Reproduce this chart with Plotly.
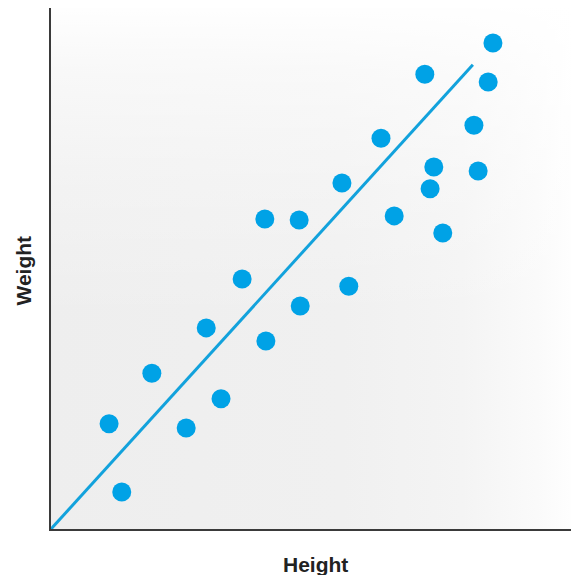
import base64
import plotly.graph_objects as go

# Data (arbitrary 0-100 units)
height = [11.0, 13.4, 19.1, 25.6, 29.4, 32.2, 36.2, 40.5, 40.7, 47.0, 47.2, 55.1,
          56.4, 62.5, 65.0, 70.8, 71.8, 72.5, 74.2, 80.1, 80.9, 82.8, 83.7]
weight = [20.2, 7.1, 29.9, 19.4, 38.6, 25.0, 48.0, 59.5, 36.1, 59.3, 42.8, 66.4,
          46.6, 75.0, 60.1, 87.3, 65.3, 69.5, 56.8, 77.5, 68.7, 85.8, 93.3]
trend_x = [0.0, 79.9]
trend_y = [0.0, 89.1]

x_title = "Height"
y_title = "Weight"

BLUE = "#00a2e6"

svg = """<svg xmlns='http://www.w3.org/2000/svg' width='528' height='521' viewBox='0 0 528 521' preserveAspectRatio='none'>
<defs>
<linearGradient id='h' x1='0' y1='0' x2='1' y2='0'>
<stop offset='0' stop-color='#eeeeee'/>
<stop offset='0.55' stop-color='#f0f0f0'/>
<stop offset='0.78' stop-color='#f4f4f4'/>
<stop offset='0.92' stop-color='#fafafa'/>
<stop offset='1' stop-color='#ffffff'/>
</linearGradient>
<linearGradient id='v' x1='0' y1='0' x2='0' y2='1'>
<stop offset='0' stop-color='#ffffff' stop-opacity='0.95'/>
<stop offset='0.12' stop-color='#ffffff' stop-opacity='0.6'/>
<stop offset='0.35' stop-color='#ffffff' stop-opacity='0.25'/>
<stop offset='0.6' stop-color='#ffffff' stop-opacity='0'/>
</linearGradient>
</defs>
<rect x='0' y='0' width='528' height='521' fill='url(#h)'/>
<rect x='0' y='0' width='528' height='521' fill='url(#v)'/>
</svg>"""
svg_uri = "data:image/svg+xml;base64," + base64.b64encode(svg.encode()).decode()

fig = go.Figure()
fig.add_trace(go.Scatter(x=trend_x, y=trend_y, mode="lines",
                         line=dict(color="#12a2dc", width=3), hoverinfo="skip"))
fig.add_trace(go.Scatter(x=height, y=weight, mode="markers",
                         marker=dict(color=BLUE, size=19, line=dict(width=0))))

# page body has an 8px default margin, so the figure is 8px smaller
fig.update_layout(
    width=571, height=567,
    margin=dict(l=43, r=0, t=0, b=46),
    paper_bgcolor="white", plot_bgcolor="white",
    showlegend=False,
    font=dict(family="Liberation Sans, Arial, sans-serif"),
    images=[dict(source=svg_uri, xref="paper", yref="paper", x=0, y=1,
                 sizex=1, sizey=1, sizing="stretch", layer="below",
                 xanchor="left", yanchor="top")],
    xaxis=dict(range=[0, 100], showgrid=False, zeroline=False, showticklabels=False,
               ticks="", showline=True, linecolor="#3a3a3a", linewidth=2, fixedrange=True),
    yaxis=dict(range=[0, 100], showgrid=False, zeroline=False, showticklabels=False,
               ticks="", showline=True, linecolor="#3a3a3a", linewidth=2, fixedrange=True),
    annotations=[
        dict(text=f"<b>{x_title}</b>", xref="paper", yref="paper", x=0.5, y=0,
             xanchor="center", yanchor="middle", yshift=-35, showarrow=False,
             font=dict(size=21, color="#222222")),
        dict(text=f"<b>{y_title}</b>", xref="paper", yref="paper", x=0, y=0.5,
             xanchor="center", yanchor="middle", xshift=-28, yshift=-2, textangle=-90,
             showarrow=False, font=dict(size=21, color="#222222")),
    ],
)

fig.write_html("out.html", config={"displayModeBar": False})
